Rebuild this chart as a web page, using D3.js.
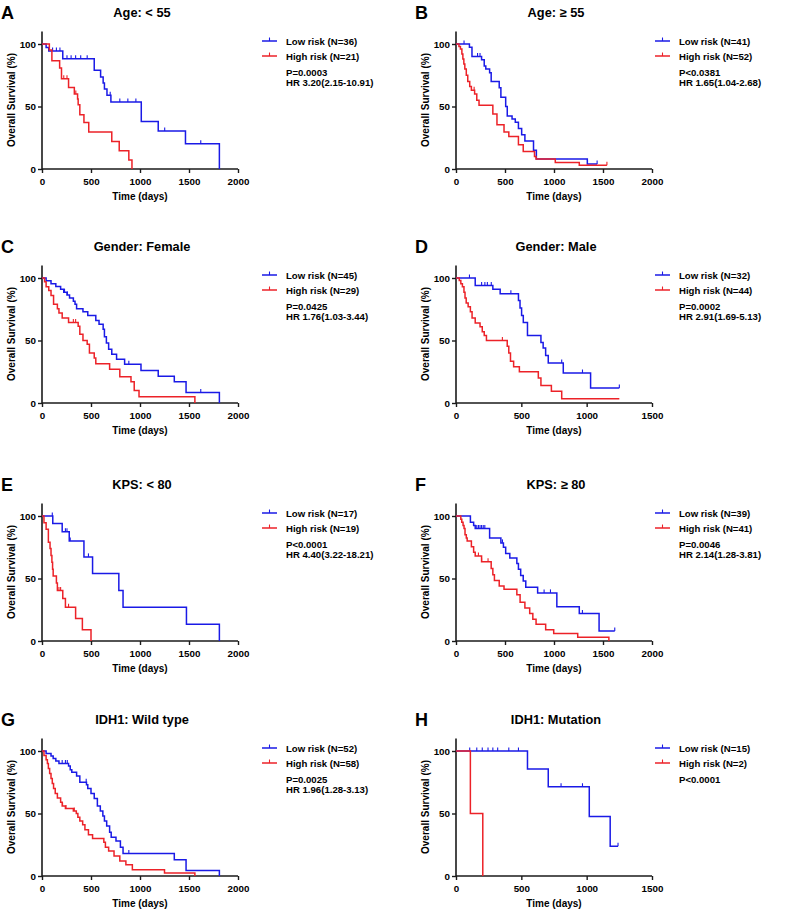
<!DOCTYPE html>
<html>
<head>
<meta charset="utf-8">
<script src="https://cdn.jsdelivr.net/npm/d3@7"></script>
<style>
html,body{margin:0;padding:0;background:#fff;}
svg{display:block;}
text{font-family:"Liberation Sans",Arial,Helvetica,sans-serif;font-weight:bold;fill:#000;}
</style>
</head>
<body>
<svg id="chart" width="786" height="909"></svg>
<script>
// ---------------- DATA ----------------
const panelLetters = ["A","B","C","D","E","F","G","H"];
const panelTitles = ["Age: < 55","Age: \u2265 55","Gender: Female","Gender: Male","KPS: < 80","KPS: \u2265 80","IDH1: Wild type","IDH1: Mutation"];
const lowN  = [36,41,45,32,17,39,52,15];
const highN = [21,52,29,44,19,41,58,2];
const pValues  = ["P=0.0003","P<0.0381","P=0.0425","P=0.0002","P<0.0001","P=0.0046","P=0.0025","P<0.0001"];
const hrValues = ["HR 3.20(2.15-10.91)","HR 1.65(1.04-2.68)","HR 1.76(1.03-3.44)","HR 2.91(1.69-5.13)","HR 4.40(3.22-18.21)","HR 2.14(1.28-3.81)","HR 1.96(1.28-3.13)",""];
const xMaxDays = [2000,2000,2000,1500,2000,2000,2000,1500];
const yTicks = [0,50,100];

// Kaplan-Meier steps: [time (days), survival (%) after the step]
const lowA = [[0,100],[42,97.2],[69,94.4],[212,88.3],[533,79],[598,73.6],[624,68.8],[637,64],[663,59],[703,53.6],[1013,38],[1186,30.5],[1464,20.3],[1810,0]];
const lowACens = [108,147,183,255,297,343,395,461,696,794,876,958,1252,1620];
const highA = [[0,100],[75,95.2],[101,86.7],[180,80.8],[199,72.3],[271,65.3],[330,60],[363,56],[369,51.5],[386,43.5],[428,37.3],[477,29.6],[712,22],[788,14.7],[886,7.3],[918,0]];
const highACens = [222,255,345];

const lowB = [[0,100],[137,97.5],[163,90],[261,87.5],[288,82.5],[304,80],[343,77],[359,70],[441,65],[458,57.5],[507,50],[523,42.5],[572,40],[605,37.5],[637,32.5],[670,27.5],[703,22.5],[791,15],[820,8],[1340,4],[1440,4]];
const lowBCens = [82,220,245,1440];
const highB = [[0,100],[30,98],[45,96],[60,92],[70,88],[80,84],[90,80],[105,75],[120,70],[140,66],[157,63],[190,60],[212,55],[235,51],[376,44],[418,35.5],[490,29.6],[539,26],[637,19.5],[686,14],[801,10],[817,8],[1013,5.3],[1258,3],[1540,3]];
const highBCens = [185,1540];

const lowC = [[0,100],[42,97.8],[92,95.5],[141,93.2],[190,91],[222,88.6],[255,86.4],[281,84],[320,81.5],[337,79],[353,75.5],[418,73],[467,70],[549,66],[582,63],[624,59],[637,53],[657,48],[680,43],[712,39],[761,35],[843,31],[1010,26],[1186,21.5],[1350,17],[1470,8.5],[1810,0]];
const lowCCens = [230,260,886,1620];
const highC = [[0,100],[26,97],[42,93],[69,90],[92,86],[118,79],[157,75.5],[173,72],[206,68],[271,64.5],[369,61.5],[386,55],[418,50],[461,47],[484,40],[533,36],[549,31.5],[690,27],[794,21],[908,17],[941,10],[990,5],[1560,0]];
const highCCens = [320,343];

const lowD = [[0,100],[147,94],[282,91],[338,87.5],[478,82],[490,76],[502,70],[515,64.5],[547,54],[650,48.5],[667,44],[686,38],[706,32],[821,24],[1030,12],[1250,12]];
const lowDCens = [103,196,221,240,270,420,809,968,1250];
const highD = [[0,100],[25,98],[37,95.5],[49,93],[61,88.6],[69,84],[78,80],[93,77],[110,73],[123,68],[147,64],[184,61],[201,57],[216,54],[233,50],[392,45.5],[404,40],[417,33.5],[441,29],[485,25],[630,20],[650,14],[730,9.5],[809,3.5],[1250,3.5]];
const highDCens = [355];

const lowE = [[0,100],[110,94],[206,87.5],[278,80],[428,67.3],[516,54],[784,40.5],[827,27],[1474,13.5],[1810,0]];
const lowECens = [105,239,255,288,474];
const highE = [[0,100],[20,94.7],[42,89.5],[65,79],[82,74],[92,68.5],[101,63],[108,57.5],[114,52],[147,46.5],[157,40.5],[212,34],[239,27],[343,18],[412,9],[500,0]];
const highECens = [173,190,271];

const lowF = [[0,100],[147,95],[180,92.5],[196,90],[343,82.5],[458,78.5],[484,75],[507,70],[549,66.5],[621,62],[637,57.5],[660,52.5],[686,48],[712,43],[833,38.5],[1029,27.5],[1258,22],[1460,8],[1620,8]];
const lowFCens = [212,229,245,261,278,294,474,899,964,1290,1620];
const highF = [[0,100],[49,97.5],[59,95],[72,92.5],[82,90],[92,85],[105,82.5],[114,80],[157,75.5],[180,71],[196,68],[261,63.5],[359,58],[376,53],[392,48.5],[441,44],[490,41.5],[621,37],[654,31],[703,26.5],[752,22],[784,17.5],[817,13.5],[915,9],[997,6],[1242,3],[1560,0]];
const highFCens = [229,261,327];

const lowG = [[0,100],[42,98],[92,96],[114,94],[141,92],[173,90],[271,88],[288,85],[304,83],[353,80],[386,75],[454,73],[467,70],[500,66],[533,62],[565,56],[595,52],[621,48],[637,44],[660,40],[690,35],[706,31],[755,28],[800,23],[827,18],[1350,13],[1470,4.5],[1810,0]];
const lowGCens = [206,239,258,451,886];
const highG = [[0,100],[20,96.5],[42,93],[55,90],[65,86],[78,82],[92,78],[105,74],[118,70],[135,66],[157,62.5],[190,59],[206,56],[239,54],[320,52],[350,50],[366,47],[386,44],[415,41],[438,37],[474,33],[516,30],[631,27],[647,23],[680,20],[735,16],[794,12],[856,9],[922,5],[1250,2.5],[1560,0]];
const highGCens = [210,245,330];

const lowH = [[0,100],[547,85.7],[706,71.4],[1020,47.6],[1180,23.8],[1240,23.8]];
const lowHCens = [105,159,201,245,282,319,404,478,804,968,1240];
const highH = [[0,100],[110,50],[205,0]];
const highHCens = [];

const lowCurves  = [lowA, lowB, lowC, lowD, lowE, lowF, lowG, lowH];
const lowCensors = [lowACens, lowBCens, lowCCens, lowDCens, lowECens, lowFCens, lowGCens, lowHCens];
const highCurves  = [highA, highB, highC, highD, highE, highF, highG, highH];
const highCensors = [highACens, highBCens, highCCens, highDCens, highECens, highFCens, highGCens, highHCens];

// ---------------- LAYOUT ----------------
const BLUE = "#1a1ae6", RED = "#ec2228", AXIS = "#1a1a1a";
const colPlot = [0, 414], colLegend = [0, 393];
const rowOff = [0, 234, 472, 707];
const plotLeft = 42, plotW = 196, yBottom = 169, yTop100 = 44;

const svg = d3.select("#chart");

function levelAt(steps, t) {
  let s = steps[0][1];
  for (const [tt, v] of steps) { if (tt <= t) s = v; else break; }
  return s;
}

panelLetters.forEach((letter, i) => {
  const col = i % 2, row = Math.floor(i / 2);
  const ox = colPlot[col], oy = rowOff[row], lx = colLegend[col];
  const g = svg.append("g");

  const x = d3.scaleLinear().domain([0, xMaxDays[i]]).range([ox + plotLeft, ox + plotLeft + plotW]);
  const y = d3.scaleLinear().domain([0, 100]).range([oy + yBottom, oy + yTop100]);
  const yMaxVal = 110;

  // panel letter
  g.append("text").attr("x", ox + 1).attr("y", oy + 18.5).attr("font-size", 18).text(letter);
  // title
  g.append("text").attr("x", ox + plotLeft + plotW / 2 + 2).attr("y", oy + 16.5)
    .attr("text-anchor", "middle").attr("font-size", 12.8).text(panelTitles[i]);

  // axes
  const xTickVals = d3.range(0, xMaxDays[i] + 1, 500);
  const xAxis = d3.axisBottom(x).tickValues(xTickVals).tickSize(4).tickPadding(5).tickFormat(d3.format("d"));
  const xg = g.append("g").attr("transform", `translate(0,${oy + yBottom})`).call(xAxis);
  xg.select(".domain").attr("d", `M${x(0)},0H${x(xMaxDays[i])}`);

  const yAxis = d3.axisLeft(y).tickValues(yTicks).tickSize(4).tickPadding(2);
  const yg = g.append("g").attr("transform", `translate(${ox + plotLeft},0)`).call(yAxis);
  yg.select(".domain").attr("d", `M0,${y(yMaxVal)}V${y(0)}`);

  [xg, yg].forEach(a => {
    a.select(".domain").attr("stroke", AXIS).attr("stroke-width", 1.6);
    a.selectAll(".tick line").attr("stroke", AXIS).attr("stroke-width", 1.4);
    a.selectAll(".tick text").attr("font-size", 9.8).attr("font-weight", "bold")
      .attr("font-family", "Liberation Sans, Arial, sans-serif").attr("fill", "#000");
  });

  // axis titles
  g.append("text").attr("x", ox + plotLeft + plotW / 2).attr("y", oy + 200)
    .attr("text-anchor", "middle").attr("font-size", 10).text("Time (days)");
  g.append("text").attr("transform", `translate(${ox + 15},${oy + 100}) rotate(-90)`)
    .attr("text-anchor", "middle").attr("font-size", 10).text("Overall Survival (%)");

  // curves
  const line = d3.line().x(d => x(d[0])).y(d => y(d[1])).curve(d3.curveStepAfter);
  const series = [
    {steps: lowCurves[i], cens: lowCensors[i], color: BLUE},
    {steps: highCurves[i], cens: highCensors[i], color: RED}
  ];
  series.forEach(s => {
    g.append("path").datum(s.steps).attr("d", line)
      .attr("fill", "none").attr("stroke", s.color).attr("stroke-width", 1.5);
    g.selectAll(null).data(s.cens).enter().append("line")
      .attr("x1", d => x(d)).attr("x2", d => x(d))
      .attr("y1", d => y(levelAt(s.steps, d))).attr("y2", d => y(levelAt(s.steps, d)) - 3.5)
      .attr("stroke", s.color).attr("stroke-width", 1.1);
  });

  // legend
  const legX = lx + 262, legTx = lx + 286;
  const legItems = [
    {label: `Low risk (N=${lowN[i]})`, color: BLUE, yy: oy + 41},
    {label: `High risk (N=${highN[i]})`, color: RED, yy: oy + 56}
  ];
  legItems.forEach(it => {
    g.append("line").attr("x1", legX).attr("x2", legX + 15).attr("y1", it.yy).attr("y2", it.yy)
      .attr("stroke", it.color).attr("stroke-width", 1.5);
    g.append("line").attr("x1", legX + 7.5).attr("x2", legX + 7.5).attr("y1", it.yy).attr("y2", it.yy - 3.5)
      .attr("stroke", it.color).attr("stroke-width", 1.1);
    g.append("text").attr("x", legTx).attr("y", it.yy + 3.5).attr("font-size", 9.6).text(it.label);
  });
  g.append("text").attr("x", legTx).attr("y", oy + 75.5).attr("font-size", 9.6).text(pValues[i]);
  if (hrValues[i]) g.append("text").attr("x", legTx).attr("y", oy + 86).attr("font-size", 9.6).text(hrValues[i]);
});
</script>
</body>
</html>
